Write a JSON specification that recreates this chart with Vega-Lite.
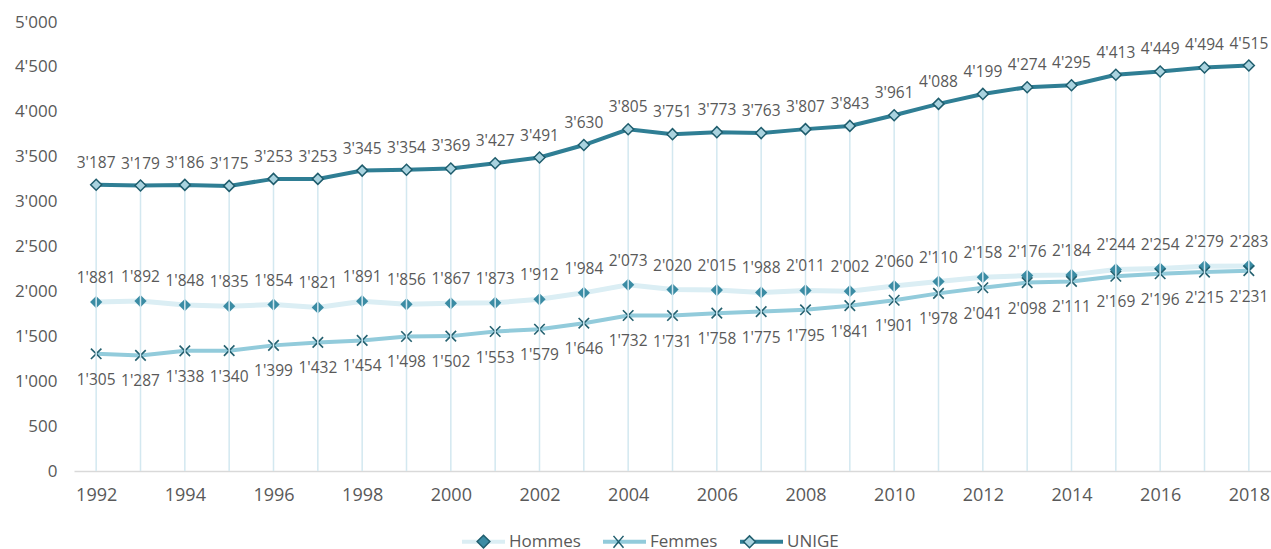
{
  "$schema": "https://vega.github.io/schema/vega-lite/v6.json",
  "width": 1197,
  "height": 449,
  "autosize": {"type": "none"},
  "padding": {"left": 74, "top": 22, "right": 0, "bottom": 78},
  "config": {
    "view": {"stroke": null},
    "font": "Open Sans",
    "locale": {"number": {"decimal": ".", "thousands": "'", "grouping": [3], "currency": ["", ""]}}
  },
  "data": {"values": [
    {"year": 1992, "UNIGE": 3187, "Hommes": 1881, "Femmes": 1305},
    {"year": 1993, "UNIGE": 3179, "Hommes": 1892, "Femmes": 1287},
    {"year": 1994, "UNIGE": 3186, "Hommes": 1848, "Femmes": 1338},
    {"year": 1995, "UNIGE": 3175, "Hommes": 1835, "Femmes": 1340},
    {"year": 1996, "UNIGE": 3253, "Hommes": 1854, "Femmes": 1399},
    {"year": 1997, "UNIGE": 3253, "Hommes": 1821, "Femmes": 1432},
    {"year": 1998, "UNIGE": 3345, "Hommes": 1891, "Femmes": 1454},
    {"year": 1999, "UNIGE": 3354, "Hommes": 1856, "Femmes": 1498},
    {"year": 2000, "UNIGE": 3369, "Hommes": 1867, "Femmes": 1502},
    {"year": 2001, "UNIGE": 3427, "Hommes": 1873, "Femmes": 1553},
    {"year": 2002, "UNIGE": 3491, "Hommes": 1912, "Femmes": 1579},
    {"year": 2003, "UNIGE": 3630, "Hommes": 1984, "Femmes": 1646},
    {"year": 2004, "UNIGE": 3805, "Hommes": 2073, "Femmes": 1732},
    {"year": 2005, "UNIGE": 3751, "Hommes": 2020, "Femmes": 1731},
    {"year": 2006, "UNIGE": 3773, "Hommes": 2015, "Femmes": 1758},
    {"year": 2007, "UNIGE": 3763, "Hommes": 1988, "Femmes": 1775},
    {"year": 2008, "UNIGE": 3807, "Hommes": 2011, "Femmes": 1795},
    {"year": 2009, "UNIGE": 3843, "Hommes": 2002, "Femmes": 1841},
    {"year": 2010, "UNIGE": 3961, "Hommes": 2060, "Femmes": 1901},
    {"year": 2011, "UNIGE": 4088, "Hommes": 2110, "Femmes": 1978},
    {"year": 2012, "UNIGE": 4199, "Hommes": 2158, "Femmes": 2041},
    {"year": 2013, "UNIGE": 4274, "Hommes": 2176, "Femmes": 2098},
    {"year": 2014, "UNIGE": 4295, "Hommes": 2184, "Femmes": 2111},
    {"year": 2015, "UNIGE": 4413, "Hommes": 2244, "Femmes": 2169},
    {"year": 2016, "UNIGE": 4449, "Hommes": 2254, "Femmes": 2196},
    {"year": 2017, "UNIGE": 4494, "Hommes": 2279, "Femmes": 2215},
    {"year": 2018, "UNIGE": 4515, "Hommes": 2283, "Femmes": 2231}
  ]},
  "encoding": {
    "x": {
      "field": "year", "type": "quantitative",
      "scale": {"domain": [1991.5, 2018.5], "nice": false, "zero": false},
      "axis": {
        "title": null, "values": [1992,1994,1996,1998,2000,2002,2004,2006,2008,2010,2012,2014,2016,2018],
        "format": "d", "grid": false, "ticks": false, "tickSize": 0,
        "domainColor": "#d9d9d9", "domainWidth": 1.5,
        "labelFontSize": 18, "labelColor": "#595959", "labelPadding": 15, "labelFlush": false
      }
    }
  },
  "layer": [
    {
      "mark": {"type": "line", "color": "#dbeef4", "strokeWidth": 5},
      "encoding": {"y": {"field": "Hommes", "type": "quantitative",
        "scale": {"domain": [0, 5000], "nice": false},
        "axis": {"title": null, "values": [0,500,1000,1500,2000,2500,3000,3500,4000,4500,5000], "format": ",d",
          "grid": false, "ticks": false, "tickSize": 0, "domain": false,
          "labelFontSize": 17, "labelColor": "#595959", "labelPadding": 17}}}
    },
    {
      "mark": {"type": "line", "color": "#92cbdb", "strokeWidth": 4},
      "encoding": {"y": {"field": "Femmes", "type": "quantitative"}}
    },
    {
      "mark": {"type": "point", "shape": "diamond", "filled": true, "fill": "#3b8ca4", "opacity": 1, "size": 150, "strokeWidth": 0},
      "encoding": {"y": {"field": "Hommes", "type": "quantitative"}}
    },
    {
      "mark": {"type": "point", "shape": "M-1,-1L1,1M-1,1L1,-1", "filled": false, "stroke": "#24606f", "opacity": 1, "size": 110, "strokeWidth": 1.6},
      "encoding": {"y": {"field": "Femmes", "type": "quantitative"}}
    },
    {
      "mark": {"type": "rule", "color": "#d3e8f0", "strokeWidth": 1.5},
      "encoding": {"y": {"field": "UNIGE", "type": "quantitative"}, "y2": {"datum": 0}}
    },
    {
      "mark": {"type": "line", "color": "#2f7e94", "strokeWidth": 4},
      "encoding": {"y": {"field": "UNIGE", "type": "quantitative"}}
    },
    {
      "mark": {"type": "point", "shape": "diamond", "filled": true, "fill": "#a9d3df", "stroke": "#1f5d6d", "opacity": 1, "size": 121, "strokeWidth": 1.5},
      "encoding": {"y": {"field": "UNIGE", "type": "quantitative"}}
    },
    {
      "mark": {"type": "text", "fontSize": 15.5, "color": "#595959", "baseline": "alphabetic", "dy": -17},
      "encoding": {"y": {"field": "UNIGE", "type": "quantitative"}, "text": {"field": "UNIGE", "type": "quantitative", "format": ",d"}}
    },
    {
      "mark": {"type": "text", "fontSize": 15.5, "color": "#595959", "baseline": "alphabetic", "dy": -19},
      "encoding": {"y": {"field": "Hommes", "type": "quantitative"}, "text": {"field": "Hommes", "type": "quantitative", "format": ",d"}}
    },
    {
      "mark": {"type": "text", "fontSize": 15.5, "color": "#595959", "baseline": "top", "dy": 19},
      "encoding": {"y": {"field": "Femmes", "type": "quantitative"}, "text": {"field": "Femmes", "type": "quantitative", "format": ",d"}}
    },
    {
      "transform": [{"filter": "datum.year > 3000"}],
      "mark": {"type": "point", "filled": false, "opacity": 1},
      "encoding": {
        "y": {"field": "UNIGE", "type": "quantitative"},
        "color": {"field": "series", "type": "nominal",
          "scale": {"domain": ["Hommes", "Femmes", "UNIGE"], "range": ["#dbeef4", "#92cbdb", "#2f7e94"]},
          "legend": {"title": null, "orient": "none", "legendX": 386, "legendY": 496, "direction": "horizontal",
            "symbolType": "stroke", "symbolStrokeWidth": 4, "symbolSize": 1849, "symbolOpacity": 1,
            "labelFontSize": 17, "labelColor": "#595959", "columnPadding": 14, "labelOffset": 2, "zindex": 0}}
      }
    },
    {
      "transform": [{"filter": "datum.year > 3000"}],
      "mark": {"type": "point", "filled": true, "stroke": "#1f5d6d", "strokeWidth": 1.5, "opacity": 1},
      "encoding": {
        "y": {"field": "UNIGE", "type": "quantitative"},
        "fill": {"field": "series2", "type": "nominal",
          "scale": {"domain": ["Hommes ", "Femmes ", "UNIGE "], "range": ["#3b8ca4", "transparent", "#a9d3df"]},
          "legend": {"title": null, "orient": "none", "legendX": 386, "legendY": 496, "direction": "horizontal",
            "labelExpr": "trim(datum.label)",
            "symbolSize": 2070, "symbolStrokeWidth": 1.5, "symbolStrokeColor": "#1f5d6d", "symbolOpacity": 1,
            "labelFontSize": 17, "labelColor": "#595959", "labelOpacity": 0, "columnPadding": 14, "labelOffset": 2, "zindex": 1}},
        "shape": {"field": "series2", "type": "nominal",
          "scale": {"domain": ["Hommes ", "Femmes ", "UNIGE "], "range": ["M0,-0.28L0.28,0L0,0.28L-0.28,0Z", "M-0.22,-0.26L0.22,0.26M-0.22,0.26L0.22,-0.26", "M0,-0.26L0.26,0L0,0.26L-0.26,0Z"]}}
      }
    }
  ]
}
